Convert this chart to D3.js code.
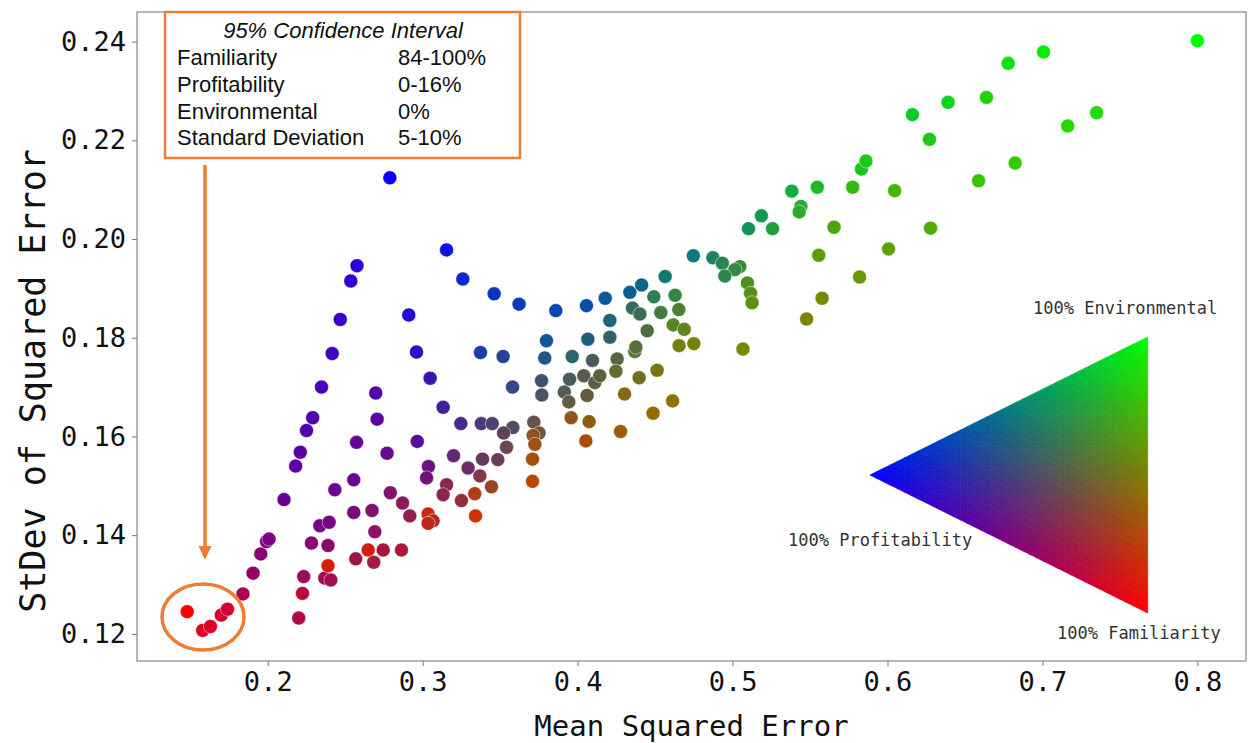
<!DOCTYPE html>
<html>
<head>
<meta charset="utf-8">
<style>
  body { margin: 0; background: #fff; }
  .tick text { font-family: "DejaVu Sans Mono", monospace; }
</style>
</head>
<body>
<svg id="chart"></svg>
<script src="https://cdn.jsdelivr.net/npm/d3@7"></script>
<script>
// [mse, stdev, familiarity %, profitability %, environmental %]
const redCluster = [
  [0.148, 0.1245, 100, 0, 0], [0.158, 0.1207, 88, 12, 0], [0.163, 0.1215, 86, 14, 0],
  [0.170, 0.1238, 84, 16, 0], [0.174, 0.1250, 82, 18, 0]
]
const leftArm = [
  [0.184, 0.1281, 68, 32, 0], [0.1905, 0.1323, 60, 40, 0], [0.1955, 0.1362, 55, 45, 0],
  [0.1992, 0.1387, 50, 50, 0], [0.2008, 0.1392, 48, 52, 0], [0.2105, 0.1472, 41, 59, 0],
  [0.218, 0.1540, 37, 63, 0], [0.221, 0.1568, 35, 65, 0], [0.225, 0.1612, 33, 67, 0],
  [0.229, 0.1638, 31, 69, 0], [0.2347, 0.1700, 28, 72, 0], [0.2416, 0.1768, 25, 75, 0],
  [0.2468, 0.1837, 22, 78, 0], [0.2536, 0.1915, 19, 81, 0], [0.2576, 0.1946, 17, 83, 0],
  [0.2788, 0.2124, 3, 97, 0]
]
const lowerLeft = [
  [0.2200, 0.1232, 68, 28, 4], [0.2224, 0.1282, 72, 22, 6], [0.2232, 0.1316, 60, 36, 4],
  [0.2368, 0.1313, 62, 32, 6], [0.2407, 0.1309, 64, 30, 6], [0.2389, 0.1338, 86, 4, 10],
  [0.2282, 0.1384, 54, 44, 2], [0.2389, 0.1379, 54, 42, 4], [0.2336, 0.1419, 46, 52, 2],
  [0.2396, 0.1426, 46, 52, 2], [0.2433, 0.1492, 42, 56, 2], [0.2555, 0.1512, 40, 58, 2],
  [0.2555, 0.1446, 48, 48, 4], [0.2673, 0.1450, 50, 42, 8], [0.2691, 0.1407, 54, 38, 8],
  [0.2648, 0.1370, 84, 6, 10], [0.2568, 0.1352, 62, 30, 8], [0.2684, 0.1345, 64, 26, 10],
  [0.2745, 0.1370, 66, 26, 8], [0.2863, 0.1370, 68, 22, 10], [0.2791, 0.1486, 50, 42, 8],
  [0.2870, 0.1465, 54, 36, 10], [0.2917, 0.1439, 56, 32, 12], [0.3035, 0.1443, 80, 4, 16],
  [0.3067, 0.1429, 72, 14, 14], [0.3035, 0.1424, 74, 10, 16], [0.3250, 0.1470, 58, 24, 18],
  [0.3341, 0.1439, 80, 0, 20]
]
const purpleMiddle = [
  [0.2697, 0.1688, 32, 66, 2], [0.2706, 0.1635, 36, 62, 2], [0.2573, 0.1588, 40, 58, 2],
  [0.2770, 0.1566, 40, 56, 4], [0.2965, 0.1590, 34, 60, 6], [0.3037, 0.1539, 42, 50, 8],
  [0.3025, 0.1516, 44, 48, 8], [0.3199, 0.1561, 38, 46, 16], [0.3293, 0.1536, 42, 40, 18],
  [0.3386, 0.1554, 40, 38, 22], [0.3485, 0.1553, 42, 34, 24], [0.3369, 0.1520, 50, 28, 22],
  [0.3444, 0.1498, 60, 14, 26], [0.3336, 0.1484, 68, 8, 24], [0.3154, 0.1502, 52, 32, 16],
  [0.3132, 0.1482, 56, 30, 14], [0.2910, 0.1846, 14, 82, 4], [0.2960, 0.1771, 18, 76, 6],
  [0.3048, 0.1718, 22, 70, 8], [0.3132, 0.1659, 26, 62, 12], [0.3246, 0.1626, 28, 56, 16],
  [0.3378, 0.1626, 30, 48, 22], [0.3449, 0.1626, 30, 44, 26], [0.3582, 0.1618, 32, 38, 30],
  [0.3522, 0.1607, 36, 38, 26], [0.3541, 0.1578, 40, 32, 28], [0.3373, 0.1770, 10, 66, 24],
  [0.3519, 0.1762, 14, 60, 26], [0.3580, 0.1700, 20, 52, 28]
]
const blueArc = [
  [0.3154, 0.1978, 6, 86, 8], [0.3259, 0.1919, 4, 80, 16], [0.3461, 0.1889, 4, 76, 20],
  [0.3622, 0.1868, 4, 72, 24], [0.3859, 0.1855, 2, 70, 28], [0.4057, 0.1865, 4, 66, 30],
  [0.4178, 0.1880, 4, 62, 34], [0.4337, 0.1892, 6, 58, 36], [0.4413, 0.1907, 4, 56, 40],
  [0.4565, 0.1924, 8, 44, 48], [0.4747, 0.1966, 4, 48, 48], [0.4873, 0.1962, 12, 38, 50],
  [0.4934, 0.1951, 16, 32, 52], [0.5047, 0.1944, 24, 22, 54], [0.5015, 0.1938, 20, 26, 54],
  [0.4950, 0.1925, 18, 30, 52], [0.5096, 0.1911, 30, 14, 56], [0.5116, 0.1890, 34, 10, 56],
  [0.5126, 0.1871, 38, 6, 56], [0.5067, 0.1777, 46, 0, 54]
]
const middleCluster = [
  [0.3717, 0.1629, 38, 30, 32], [0.3751, 0.1607, 44, 24, 32], [0.3713, 0.1602, 56, 12, 32],
  [0.3724, 0.1584, 60, 8, 32], [0.3709, 0.1554, 64, 4, 32], [0.3709, 0.1509, 72, 0, 28],
  [0.3799, 0.1794, 6, 60, 34], [0.3788, 0.1759, 14, 52, 34], [0.3965, 0.1762, 16, 44, 40],
  [0.3767, 0.1713, 24, 44, 32], [0.3769, 0.1684, 30, 38, 32], [0.3914, 0.1690, 32, 32, 36],
  [0.3948, 0.1716, 28, 36, 36], [0.3943, 0.1670, 38, 26, 36], [0.3958, 0.1638, 56, 10, 34],
  [0.4074, 0.1630, 56, 8, 36], [0.4053, 0.1591, 66, 4, 30], [0.4277, 0.1610, 62, 2, 36],
  [0.4487, 0.1647, 58, 0, 42], [0.4613, 0.1672, 56, 0, 44], [0.4303, 0.1686, 52, 6, 42],
  [0.4061, 0.1683, 40, 24, 36], [0.4096, 0.1754, 28, 36, 36], [0.4040, 0.1723, 34, 30, 36],
  [0.4111, 0.1709, 38, 26, 36], [0.4143, 0.1723, 36, 26, 38], [0.4255, 0.1757, 34, 26, 40],
  [0.4247, 0.1732, 40, 18, 42], [0.4397, 0.1719, 44, 12, 44], [0.4513, 0.1734, 48, 6, 46],
  [0.4369, 0.1772, 36, 20, 44], [0.4376, 0.1781, 34, 22, 44], [0.4066, 0.1797, 14, 50, 36],
  [0.4208, 0.1801, 20, 42, 38], [0.4208, 0.1835, 10, 50, 40], [0.4449, 0.1814, 30, 26, 44],
  [0.4655, 0.1784, 46, 4, 50], [0.4750, 0.1788, 48, 2, 50], [0.4617, 0.1826, 34, 14, 52],
  [0.4688, 0.1817, 38, 10, 52], [0.4354, 0.1860, 20, 38, 42], [0.4402, 0.1848, 22, 34, 44],
  [0.4537, 0.1851, 26, 26, 48], [0.4653, 0.1857, 30, 20, 50], [0.4492, 0.1883, 18, 32, 50],
  [0.4629, 0.1886, 22, 26, 52]
]
const greenUpper = [
  [0.5103, 0.2021, 6, 36, 58], [0.5258, 0.2021, 14, 24, 62], [0.5186, 0.2047, 8, 32, 60],
  [0.5382, 0.2097, 8, 24, 68], [0.5441, 0.2066, 14, 18, 68], [0.5430, 0.2055, 16, 16, 68],
  [0.5547, 0.2105, 12, 16, 72], [0.5655, 0.2024, 30, 6, 64], [0.5556, 0.1967, 36, 2, 62],
  [0.5478, 0.1838, 48, 0, 52], [0.5578, 0.1880, 46, 0, 54], [0.5820, 0.1923, 40, 0, 60],
  [0.6007, 0.1980, 36, 0, 64], [0.6278, 0.2022, 32, 0, 68], [0.5775, 0.2105, 22, 6, 72],
  [0.5832, 0.2142, 12, 12, 76], [0.5861, 0.2158, 12, 10, 78], [0.6046, 0.2098, 26, 2, 72],
  [0.6588, 0.2118, 24, 0, 76], [0.6824, 0.2154, 20, 0, 80], [0.6161, 0.2252, 4, 16, 80],
  [0.6391, 0.2277, 4, 12, 84], [0.6639, 0.2287, 14, 4, 82], [0.6271, 0.2202, 14, 8, 78],
  [0.6779, 0.2356, 6, 6, 88], [0.7007, 0.2379, 4, 4, 92], [0.7163, 0.2229, 16, 0, 84],
  [0.7350, 0.2256, 14, 0, 86], [0.8000, 0.2402, 0, 0, 100]
]

const xTicks = [0.2, 0.3, 0.4, 0.5, 0.6, 0.7, 0.8]
const yTicks = [0.12, 0.14, 0.16, 0.18, 0.20, 0.22, 0.24]
const legendTitle = "95% Confidence Interval"
const legendRows = [
  ["Familiarity", "84-100%"],
  ["Profitability", "0-16%"],
  ["Environmental", "0%"],
  ["Standard Deviation", "5-10%"]
]
const cornerLabels = ["100% Environmental", "100% Profitability", "100% Familiarity"]

const width = 1248, height = 743
const plot = { left: 137, right: 1246, top: 12, bottom: 661 }
const orange = "#ed7d31"

const svg = d3.select("#chart").attr("width", width).attr("height", height)

const x = d3.scaleLinear().domain([0.1156, 0.8314]).range([plot.left, plot.right])
const y = d3.scaleLinear().domain([0.1145, 0.2460]).range([plot.bottom, plot.top])

function mix(f, p, e) {
  return d3.rgb(255 * f / 100, 255 * e / 100, 255 * p / 100).toString()
}

// axes
svg.append("g").attr("transform", `translate(0,${plot.bottom})`)
  .call(d3.axisBottom(x).tickValues(xTicks).tickFormat(d3.format(".1f")).tickSize(5).tickPadding(6))
svg.append("g").attr("transform", `translate(${plot.left},0)`)
  .call(d3.axisLeft(y).tickValues(yTicks).tickFormat(d3.format(".2f")).tickSize(5).tickPadding(6))
svg.selectAll(".domain").remove()
svg.selectAll(".tick line").attr("stroke", "#777")
svg.selectAll(".tick text").attr("font-size", 27).attr("fill", "#111")

svg.append("rect")
  .attr("x", plot.left).attr("y", plot.top)
  .attr("width", plot.right - plot.left).attr("height", plot.bottom - plot.top)
  .attr("fill", "none").attr("stroke", "#888").attr("stroke-width", 1.2)

svg.append("text")
  .attr("x", (plot.left + plot.right) / 2).attr("y", 736)
  .attr("text-anchor", "middle")
  .attr("font-family", "DejaVu Sans Mono").attr("font-size", 29).attr("fill", "#111")
  .text("Mean Squared Error")

svg.append("text")
  .attr("transform", "translate(45,381) rotate(-90)")
  .attr("text-anchor", "middle")
  .attr("font-family", "DejaVu Sans Mono").attr("font-size", 35).attr("fill", "#111")
  .text("StDev of Squared Error")

// colour triangle
const P = [870, 475], E = [1147.7, 337], F = [1147.7, 613]
const N = 40
const tri = []
function pt(i, j) {
  return [P[0] + (i / N) * (E[0] - P[0]) + (j / N) * (F[0] - P[0]),
          P[1] + (i / N) * (E[1] - P[1]) + (j / N) * (F[1] - P[1])]
}
for (let i = 0; i < N; i++) {
  for (let j = 0; i + j < N; j++) {
    tri.push({ pts: [pt(i, j), pt(i + 1, j), pt(i, j + 1)], e: (i + 1 / 3) / N, f: (j + 1 / 3) / N })
    if (i + j < N - 1)
      tri.push({ pts: [pt(i + 1, j), pt(i + 1, j + 1), pt(i, j + 1)], e: (i + 2 / 3) / N, f: (j + 2 / 3) / N })
  }
}
svg.append("g").selectAll("path").data(tri).enter().append("path")
  .attr("d", d => "M" + d.pts.map(p => p.join(",")).join("L") + "Z")
  .each(function (d) {
    const c = mix(d.f * 100, (1 - d.e - d.f) * 100, d.e * 100)
    d3.select(this).attr("fill", c).attr("stroke", c).attr("stroke-width", 0.7)
  })

const cornerPos = [[1033, 314], [788, 546], [1057, 639]]
svg.append("g").selectAll("text").data(cornerLabels).enter().append("text")
  .attr("x", (d, i) => cornerPos[i][0]).attr("y", (d, i) => cornerPos[i][1])
  .attr("font-family", "DejaVu Sans Mono").attr("font-size", 17).attr("fill", "#333")
  .text(d => d)

// points
const points = [].concat(redCluster, leftArm, lowerLeft, purpleMiddle, blueArc, middleCluster, greenUpper)
svg.append("g").selectAll("circle").data(points).enter().append("circle")
  .attr("cx", d => x(d[0])).attr("cy", d => y(d[1])).attr("r", 7)
  .attr("fill", d => mix(d[2], d[3], d[4]))
  .attr("stroke", "#fff").attr("stroke-opacity", 0.6).attr("stroke-width", 0.8)

// annotation: legend box, arrow, ellipse
const box = svg.append("g")
box.append("rect").attr("x", 165).attr("y", 12).attr("width", 355).attr("height", 146)
  .attr("fill", "#fff").attr("stroke", orange).attr("stroke-width", 2.5)
box.append("text").attr("x", 343).attr("y", 38).attr("text-anchor", "middle")
  .attr("font-family", "Liberation Sans, Arial").attr("font-style", "italic").attr("font-size", 22)
  .attr("fill", "#111")
  .text(legendTitle)
const rows = box.selectAll("g.row").data(legendRows).enter().append("g")
  .attr("transform", (d, i) => `translate(0,${65 + i * 26.8})`)
rows.append("text").attr("x", 177).text(d => d[0])
rows.append("text").attr("x", 398).text(d => d[1])
rows.selectAll("text").attr("font-family", "Liberation Sans, Arial").attr("font-size", 22).attr("fill", "#111")

svg.append("line").attr("x1", 205).attr("x2", 205).attr("y1", 165).attr("y2", 548)
  .attr("stroke", orange).attr("stroke-width", 3.5)
svg.append("path").attr("d", "M198.5,546 L211.5,546 L205,560 Z").attr("fill", orange)
svg.append("ellipse").attr("cx", 203).attr("cy", 617).attr("rx", 41).attr("ry", 33)
  .attr("fill", "none").attr("stroke", orange).attr("stroke-width", 3.5)
</script>
</body>
</html>
